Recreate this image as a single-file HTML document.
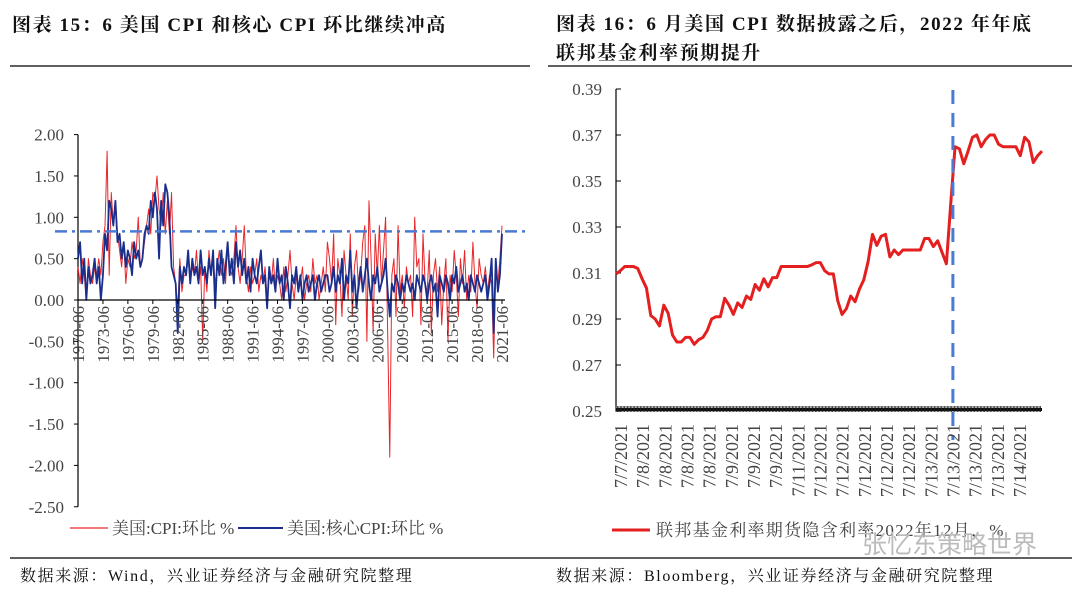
<!DOCTYPE html>
<html><head><meta charset="utf-8">
<style>
body{margin:0;background:#fff;width:1080px;height:593px;overflow:hidden;font-family:"Liberation Serif","Noto Serif CJK SC",serif;}
.t{position:absolute;font-weight:bold;font-size:19px;letter-spacing:1.6px;color:#111;white-space:nowrap;}
.src{position:absolute;font-size:16px;letter-spacing:1.6px;color:#111;white-space:nowrap;top:563px;}
svg{position:absolute;left:0;top:0}
</style></head><body>
<div class="t" style="left:12px;top:10px">图表 15：6 美国 CPI 和核心 CPI 环比继续冲高</div>
<div class="t" style="left:556px;top:10px;line-height:29px">图表 16：6 月美国 CPI 数据披露之后，2022 年年底<br>联邦基金利率预期提升</div>
<div class="src" style="left:20px">数据来源：Wind，兴业证券经济与金融研究院整理</div>
<div class="src" style="left:556px">数据来源：Bloomberg，兴业证券经济与金融研究院整理</div>
<svg id="chart" width="1080" height="593"></svg>
<script>
const cpiVals=[0.4,0.2,0.5,0.3,0.0,0.5,0.3,0.2,0.4,0.3,0.5,0.3,
0.7,0.9,1.8,0.3,1.3,0.9,1.2,0.8,
0.6,0.4,0.7,0.2,0.5,0.4,0.7,0.5,0.6,1.0,0.4,0.5,
0.7,0.9,1.1,0.8,1.3,1.2,1.5,1.1,0.9,1.3,0.8,1.2,
0.8,1.3,0.4,0.2,-0.1,0.5,0.1,0.3,
0.3,0.5,0.2,0.4,0.3,0.6,0.2,0.4,-0.5,0.4,0.1,0.6,0.3,0.5,0.2,0.4,0.6,0.3,0.5,0.2,0.7,0.4,0.3,0.5,0.9,0.4,0.2,0.5,
0.9,0.3,0.1,0.4,0.2,0.3,0.5,0.1,0.3,0.2,0.4,0.0,0.3,0.2,0.5,0.1,0.3,0.2,0.0,0.4,0.1,0.3,0.6,0.2,0.0,0.3,0.1,0.2,0.4,0.0,0.2,0.3,0.1,0.5,0.2,0.3,0.0,0.2,0.4,0.1,
0.7,0.5,0.2,0.8,-0.3,0.5,0.3,-0.2,0.6,0.3,0.0,0.8,-0.2,0.4,0.6,0.1,0.3,0.7,0.9,-0.5,1.2,0.5,-0.4,0.8,0.3,0.9,0.2,0.6,1.0,-0.4,-1.9,0.3,0.5,-0.2,0.9,0.1,0.3,-0.1,0.4,0.2,
0.3,-0.2,1.0,0.4,0.5,-0.3,0.8,0.2,0.1,0.6,-0.4,0.3,0.5,0.1,0.4,-0.3,0.2,0.5,-0.5,0.3,0.1,0.6,0.3,-0.2,0.5,0.2,0.6,0.0,0.3,0.1,0.7,0.2,-0.1,0.5,0.3,0.2,0.4,0.1,0.3,0.2,
-0.7,0.4,0.2,0.5,0.9];
const coreVals=[0.5,0.7,0.2,0.5,0.0,0.4,0.2,0.3,0.5,0.2,0.4,0.0,
0.3,0.8,0.6,1.2,1.1,0.9,1.2,0.7,
0.8,0.5,0.7,0.4,0.6,0.5,0.3,0.7,0.5,0.6,0.4,0.5,
0.8,0.9,0.8,1.2,1.0,1.3,1.1,0.5,1.2,0.9,1.4,1.3,
1.0,0.4,0.3,0.2,-0.4,0.4,0.2,0.4,
0.3,0.6,0.2,0.5,0.3,0.4,0.2,0.6,0.3,0.4,0.2,0.5,0.3,0.6,-0.1,0.5,0.3,0.6,0.2,0.4,0.7,0.3,0.5,0.2,0.7,0.4,0.6,0.3,
0.5,0.2,0.4,0.1,0.5,0.3,0.2,0.4,0.6,0.2,0.3,-0.1,0.4,0.2,0.3,0.1,0.5,0.2,0.3,0.0,0.4,0.2,-0.1,0.3,0.2,0.4,0.1,0.3,0.0,0.2,0.3,0.1,0.2,0.3,0.0,0.2,0.3,0.1,0.2,0.3,
0.3,0.1,0.2,0.4,0.1,0.3,0.2,0.5,0.0,0.3,0.2,0.6,0.1,0.3,-0.1,0.2,0.4,0.1,0.3,0.5,0.2,0.0,0.3,0.2,0.4,0.1,0.2,0.3,0.5,0.1,-0.2,0.2,0.1,0.3,0.2,0.0,0.2,0.1,0.3,0.2,
0.1,0.2,0.0,0.3,0.2,0.1,0.3,0.2,0.0,0.2,0.3,0.1,0.2,-0.2,0.3,0.2,0.1,0.3,0.2,0.0,0.3,0.2,0.4,0.1,0.2,0.3,0.1,0.2,0.0,0.3,0.2,0.1,0.3,0.2,0.1,0.2,0.3,0.0,0.2,0.5,
-0.4,0.5,0.1,0.3,0.8];
const leftXLabels=["1970-06","1973-06","1976-06","1979-06","1982-06","1985-06","1988-06","1991-06","1994-06","1997-06","2000-06","2003-06","2006-06","2009-06","2012-06","2015-06","2018-06","2021-06"];
const leftYTicks=[2.00,1.50,1.00,0.50,0.00,-0.50,-1.00,-1.50,-2.00,-2.50];
const leftRefLine=0.83;
const fedVals=[0.3096,0.311,0.3128,0.3128,0.3128,0.3120,0.3075,0.3035,0.2915,0.2900,0.2870,0.2960,0.2925,0.2830,0.2800,0.2800,0.2820,0.2820,0.2790,0.2810,0.2820,0.2850,0.2900,0.2910,0.2910,0.2990,0.2960,0.2920,0.2970,0.2950,0.3000,0.2985,0.3050,0.3025,0.3075,0.3040,0.3080,0.3080,0.3128,0.3128,0.3128,0.3128,0.3128,0.3128,0.3128,0.3135,0.3145,0.3145,0.3110,0.3096,0.3096,0.2980,0.2920,0.2945,0.3000,0.2975,0.3030,0.3070,0.3150,0.3268,0.3220,0.3260,0.3268,0.3170,0.3200,0.3180,0.3200,0.3200,0.3200,0.3200,0.3200,0.3250,0.3250,0.3215,0.3240,0.3190,0.3140,0.3400,0.3649,0.3640,0.3575,0.3630,0.3690,0.3700,0.3649,0.3680,0.3700,0.3700,0.3660,0.3649,0.3649,0.3649,0.3649,0.3610,0.3690,0.3670,0.3580,0.3610,0.3630];
const rightXLabels=["7/7/2021","7/8/2021","7/8/2021","7/8/2021","7/8/2021","7/9/2021","7/9/2021","7/9/2021","7/11/2021","7/12/2021","7/12/2021","7/12/2021","7/12/2021","7/12/2021","7/13/2021","7/13/2021","7/13/2021","7/13/2021","7/14/2021"];
const rightYTicks=[0.39,0.37,0.35,0.33,0.31,0.29,0.27,0.25];
const cpiReleaseIndex=77.5;

const svg=document.getElementById('chart');
const NS='http://www.w3.org/2000/svg';
function mk(tag,attrs,name){const e=document.createElementNS(NS,tag);for(const k in attrs)e.setAttribute(k,attrs[k]);


svg.appendChild(e);return e;}
function txt(x,y,s,size,anchor,name,rot){const e=mk('text',{x:x,y:y,'font-size':size,'text-anchor':anchor,fill:'#444','font-family':'"Liberation Serif","Noto Serif CJK SC",serif'},name);if(rot)e.setAttribute('transform','rotate(-90 '+x+' '+y+')');e.textContent=s;return e;}

mk('line',{x1:10,y1:66,x2:530,y2:66,stroke:'#000','stroke-width':1.2},'left-title-rule');
mk('line',{x1:548,y1:66,x2:1072,y2:66,stroke:'#000','stroke-width':1.2},'right-title-rule');
mk('line',{x1:10,y1:558,x2:1072,y2:558,stroke:'#000','stroke-width':1.2},'source-rule');

// LEFT CHART
const L={x0:78,x1:502,pxPer:82.7,zeroY:300};
const lx=i=>L.x0+i*(L.x1-L.x0)/(cpiVals.length-1);
const ly=v=>L.zeroY-v*L.pxPer;
leftYTicks.forEach(v=>{mk('line',{x1:L.x0-4,y1:ly(v),x2:L.x0,y2:ly(v),stroke:'#000'},'left-y-tick');txt(L.x0-14,ly(v)+6,v.toFixed(2),17,'end','left-y-label');});
mk('line',{x1:L.x0,y1:ly(2),x2:L.x0,y2:ly(-2.5),stroke:'#000','stroke-width':1.2},'left-y-axis');
function poly(vals,xf,yf,color,w,name){mk('polyline',{points:vals.map((v,i)=>xf(i)+','+yf(v)).join(' '),fill:'none',stroke:color,'stroke-width':w,'stroke-linejoin':'round'},name);}
poly(cpiVals,lx,ly,'#e8262a',1,'cpi-mom-line');
poly(coreVals,lx,ly,'#1a2f8c',1.8,'core-cpi-mom-line');
mk('line',{x1:L.x0,y1:ly(0),x2:L.x1+3,y2:ly(0),stroke:'#000','stroke-width':1.2},'left-x-axis');
leftXLabels.forEach((s,k)=>{const x=L.x0+k*(L.x1-L.x0)/(leftXLabels.length-1);mk('line',{x1:x,y1:ly(0),x2:x,y2:ly(0)+4,stroke:'#000'},'left-x-tick');txt(x+6,ly(0)+6,s,17,'end','left-x-label',true);});
mk('line',{x1:55,y1:ly(leftRefLine),x2:530,y2:ly(leftRefLine),stroke:'#4a7bd4','stroke-width':2.5,'stroke-dasharray':'12,5,3,5'},'latest-level-reference-line');
mk('line',{x1:70,y1:528,x2:108,y2:528,stroke:'#e8262a','stroke-width':1.2},'legend-cpi-swatch');
txt(112,534,'美国:CPI:环比 %',17,'start','legend-cpi-label');
mk('line',{x1:238,y1:528,x2:283,y2:528,stroke:'#1a2f8c','stroke-width':2},'legend-core-swatch');
txt(287,534,'美国:核心CPI:环比 %',17,'start','legend-core-label');

// RIGHT CHART
const R={x0:616,x1:1042,y0:411,vMin:0.25,pxPer:2300};
const rx=i=>R.x0+i*(R.x1-R.x0)/(fedVals.length-1);
const ry=v=>R.y0-(v-R.vMin)*R.pxPer;
mk('line',{x1:R.x0,y1:ry(0.39),x2:R.x0,y2:ry(0.25),stroke:'#000','stroke-width':1.2},'right-y-axis');
rightYTicks.forEach(v=>{mk('line',{x1:R.x0,y1:ry(v),x2:R.x0+5,y2:ry(v),stroke:'#000'},'right-y-tick');txt(R.x0-14,ry(v)+6,v.toFixed(2),17,'end','right-y-label');});
mk('rect',{x:R.x0,y:ry(0.25)-3,width:R.x1-R.x0,height:3,fill:'#000'},'right-x-axis');
for(let i=0;i<fedVals.length*3;i++){const x=R.x0+i*(R.x1-R.x0)/(fedVals.length*3);mk('line',{x1:x,y1:ry(0.25)-5,x2:x,y2:ry(0.25)+1,stroke:'#222','stroke-width':0.8},'right-x-minor-tick');}
poly(fedVals,rx,ry,'#e3201f',3,'fed-funds-implied-rate-line');
mk('line',{x1:rx(cpiReleaseIndex),y1:90,x2:rx(cpiReleaseIndex),y2:440,stroke:'#4a7bd4','stroke-width':3,'stroke-dasharray':'14,9'},'cpi-release-marker');
rightXLabels.forEach((s,k)=>{const x=621+k*(1020-621)/(rightXLabels.length-1);txt(x+6,424,s,18,'end','right-x-label',true);});
mk('line',{x1:612,y1:530,x2:650,y2:530,stroke:'#e3201f','stroke-width':3},'legend-fed-swatch');
const lg=txt(656,536,'联邦基金利率期货隐含利率2022年12月，%',17,'start','legend-fed-label');lg.setAttribute('letter-spacing','1.3');
const wm=txt(862,553,'张忆东策略世界',25,'start','watermark');wm.setAttribute('fill','#bbb');wm.setAttribute('font-family','"Noto Sans CJK SC",sans-serif');
</script>
</body></html>
